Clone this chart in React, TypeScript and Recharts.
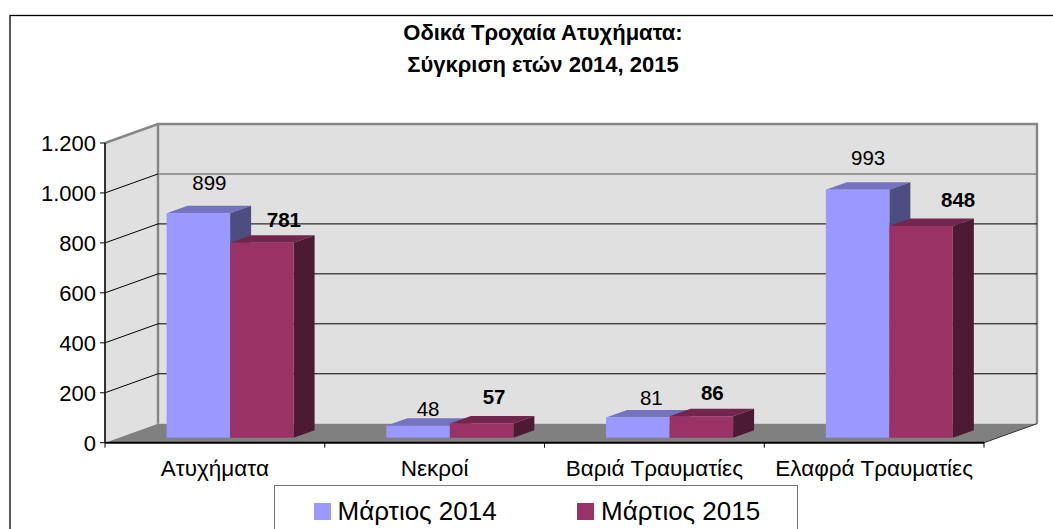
import React from 'react';
import { BarChart, Bar, XAxis, YAxis, CartesianGrid, ReferenceArea, LabelList, Legend } from 'recharts';

const categories = ['Ατυχήματα', 'Νεκροί', 'Βαριά Τραυματίες', 'Ελαφρά Τραυματίες'];
const march2014 = [899, 48, 81, 993];
const march2015 = [781, 57, 86, 848];
const yTicks = [0, 200, 400, 600, 800, 1000, 1200];
const titleLines = ['Οδικά Τροχαία Ατυχήματα:', 'Σύγκριση ετών 2014, 2015'];
const seriesNames = ['Μάρτιος 2014', 'Μάρτιος 2015'];

const rows = categories.map((name, i) => ({ name, a: march2014[i], b: march2015[i] }));

const FONT = '"Liberation Sans", Arial, sans-serif';
const W = 1053, H = 529;
const PLOT = { left: 105, right: 984, top: 143, bottom: 442.7 };
const BAND = (PLOT.right - PLOT.left) / categories.length;
const WALL = { dx: 53, dy: 19 };
const BAR = { dx: 21, dy: 7.5, shiftX: 15.6, lift: 5, width: 63.5 };

// Hand-placed label nudges from the bar's front-top centre [dx, baseline dy]
const nudgeA = [[11, -23], [10, -10], [13.5, -12], [10.5, -25]];
const nudgeB = [[22, -15.7], [12.5, -19], [11, -16], [37, -19]];

const pts = (a: number[][]) => a.map((p) => p.join(',')).join(' ');

const makeBar = (front: string, top: string, side: string) => (p: any) => {
  const x = p.x + BAR.shiftX;
  const y = p.y - BAR.lift;
  const w = p.width;
  const h = p.height;
  return (
    <g>
      <polygon points={pts([[x, y], [x + BAR.dx, y - BAR.dy], [x + w + BAR.dx, y - BAR.dy], [x + w, y]])} fill={top} />
      <polygon points={pts([[x + w, y], [x + w + BAR.dx, y - BAR.dy], [x + w + BAR.dx, y + h - BAR.dy], [x + w, y + h]])} fill={side} />
      <rect x={x} y={y} width={w} height={h} fill={front} />
    </g>
  );
};

const makeLabel = (nudge: number[][], weight: string) => (p: any) => {
  const n = nudge[p.index];
  return (
    <text
      x={p.x + BAR.shiftX + p.width / 2 + n[0]}
      y={p.y - BAR.lift + n[1]}
      textAnchor="middle"
      fontSize={20.5}
      fontWeight={weight}
      fontFamily={FONT}
      fill="#000"
    >
      {p.value}
    </text>
  );
};

const Room = (p: any) => {
  const { x, y, width, height } = p;
  const r = x + width;
  const b = y + height;
  const { dx, dy } = WALL;
  return (
    <g>
      <polygon points={pts([[x, b], [x + dx, b - dy], [x + dx, y - dy], [x, y]])} fill="#E0E0E0" />
      <rect x={x + dx} y={y - dy} width={width} height={height} fill="#E0E0E0" />
      <polygon points={pts([[x, b], [x + dx, b - dy], [r + dx, b - dy], [r, b]])} fill="#808080" />
      <polyline points={pts([[x, y], [x + dx, y - dy], [r + dx, y - dy], [r + dx, b - dy]])} fill="none" stroke="#868686" strokeWidth={2.4} />
      <line x1={x + dx} y1={y - dy} x2={x + dx} y2={b - dy} stroke="#868686" strokeWidth={2.4} />
      <line x1={r} y1={b} x2={r + dx} y2={b - dy} stroke="#333" strokeWidth={1} />
    </g>
  );
};

const gridLine = (p: any) => {
  const y = p.y1;
  if (Math.abs(y - PLOT.top) < 1 || Math.abs(y - PLOT.bottom) < 1) return <g key={p.key ?? y} />;
  const isThousand = Math.abs(y - (PLOT.top + (PLOT.bottom - PLOT.top) / 6)) < 1;
  return (
    <g key={p.key ?? y}>
      <line x1={PLOT.left} y1={y} x2={PLOT.left + WALL.dx} y2={y - WALL.dy} stroke="#000" strokeWidth={1} />
      <line
        x1={PLOT.left + WALL.dx}
        y1={y - WALL.dy}
        x2={PLOT.right + WALL.dx}
        y2={y - WALL.dy}
        stroke={isThousand ? '#808080' : '#000'}
        strokeWidth={isThousand ? 1.6 : 1}
      />
    </g>
  );
};

const XTick = (p: any) => {
  const left = p.x - BAND / 2;
  const isLast = p.index === categories.length - 1;
  return (
    <g>
      <line x1={left} y1={PLOT.bottom} x2={left} y2={PLOT.bottom + 5} stroke="#000" />
      {isLast && <line x1={left + BAND} y1={PLOT.bottom} x2={left + BAND} y2={PLOT.bottom + 5} stroke="#000" />}
      <text x={p.x} y={PLOT.bottom + 33} textAnchor="middle" fontSize={22.5} fontFamily={FONT} fill="#000">
        {p.payload.value}
      </text>
    </g>
  );
};

const LegendBox = (p: any) => {
  const items = p.payload ?? [];
  const offs = [38.5, 302];
  return (
    <div style={{ position: 'relative', width: 524, height: 60, fontFamily: FONT, fontSize: 26, color: '#000' }}>
      {items.map((it: any, i: number) => (
        <div key={i} style={{ position: 'absolute', left: offs[i], top: 10, whiteSpace: 'nowrap', lineHeight: '30px' }}>
          <span style={{ display: 'inline-block', width: 17, height: 17, background: it.color, marginRight: 7, verticalAlign: 0 }} />
          {it.value}
        </div>
      ))}
    </div>
  );
};

export default function App() {
  return (
    <div style={{ position: 'absolute', left: 0, top: 0, width: W, height: H, overflow: 'hidden', background: '#fff' }}>
      <BarChart
        width={W}
        height={H}
        data={rows}
        barGap={0}
        barSize={BAR.width}
        margin={{ top: PLOT.top, right: W - PLOT.right, bottom: H - PLOT.bottom - 40, left: 0 }}
        style={{ fontFamily: FONT }}
      >
        <rect x={10} y={15.5} width={1200} height={700} fill="none" stroke="#000" strokeWidth={1.3} />
        <text x={543} y={40} textAnchor="middle" fontSize={22} fontWeight="bold" fontFamily={FONT} fill="#000">
          {titleLines[0]}
        </text>
        <text x={543} y={71.5} textAnchor="middle" fontSize={22} fontWeight="bold" fontFamily={FONT} fill="#000">
          {titleLines[1]}
        </text>
        <ReferenceArea y1={0} y2={1200} shape={Room} ifOverflow="visible" zIndex={-200} />
        <CartesianGrid vertical={false} horizontal={gridLine} />
        <XAxis
          dataKey="name"
          height={40}
          interval={0}
          tickLine={false}
          axisLine={{ stroke: '#000', strokeWidth: 2 }}
          tick={XTick}
        />
        <YAxis
          width={PLOT.left}
          domain={[0, 1200]}
          ticks={yTicks}
          interval={0}
          tickSize={5}
          tickMargin={4}
          tickLine={{ stroke: '#000' }}
          axisLine={{ stroke: '#333', strokeWidth: 2 }}
          tick={{ fontSize: 22, fill: '#000', fontFamily: FONT }}
          tickFormatter={(v: number) => (v >= 1000 ? `${Math.floor(v / 1000)}.${String(v % 1000).padStart(3, '0')}` : `${v}`)}
        />
        <Legend
          layout="horizontal"
          verticalAlign="middle"
          align="center"
          content={LegendBox}
          wrapperStyle={{ position: 'absolute', left: 274, top: 485, width: 524, height: 60, border: '1.5px solid #777', boxSizing: 'border-box' }}
        />
        <Bar dataKey="a" name={seriesNames[0]} fill="#9999FF" isAnimationActive={false} shape={makeBar('#9999FF', '#7373BF', '#4D4D80')}>
          <LabelList dataKey="a" content={makeLabel(nudgeA, 'normal')} />
        </Bar>
        <Bar dataKey="b" name={seriesNames[1]} fill="#993366" isAnimationActive={false} shape={makeBar('#993366', '#73264D', '#4D1A33')}>
          <LabelList dataKey="b" content={makeLabel(nudgeB, 'bold')} />
        </Bar>
      </BarChart>
    </div>
  );
}
